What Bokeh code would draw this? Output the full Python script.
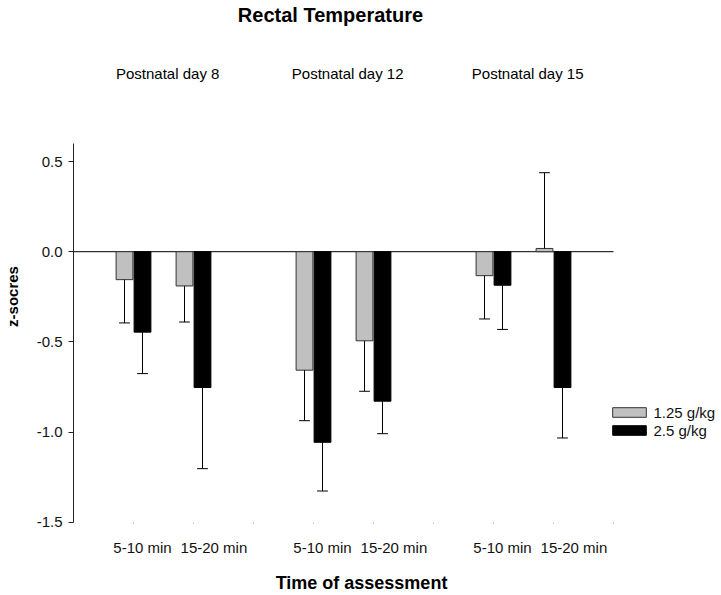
import numpy as np
from bokeh.plotting import figure
from bokeh.core.properties import value
from bokeh.models import (ColumnDataSource, FixedTicker, LinearAxis, Range1d,
                          Label, LabelSet, Legend, LegendItem, CustomJSTickFormatter)
from bokeh.embed import file_html
from bokeh.resources import INLINE

# ---------------- data ----------------
title_text = "Rectal Temperature"
days = ["Postnatal day 8", "Postnatal day 12", "Postnatal day 15"]
times = ["5-10 min", "15-20 min"]
series_names = ["1.25 g/kg", "2.5 g/kg"]
low_dose = [-0.155, -0.19, -0.657, -0.494, -0.133, 0.018]
low_err = [0.24, 0.20, 0.28, 0.28, 0.24, 0.42]
high_dose = [-0.446, -0.753, -1.057, -0.829, -0.186, -0.753]
high_err = [0.23, 0.45, 0.27, 0.18, 0.245, 0.28]
y_ticks = [-1.5, -1.0, -0.5, 0.0, 0.5]
y_min, y_max = -1.5, 0.6
x_title = "Time of assessment"
y_title = "z-socres"

# ---------------- layout / style ----------------
FONT = "Liberation Sans"
W, H = 716, 592
LEFT = 73                 # frame left edge (y axis)
AX_TOP, AX_BOTTOM = 143, 521.7   # pixel rows of y_max / y_min
SLOT_PX = 60.0

n_days = len(days)
n_times = len(times)
slots = n_times + 1
n_slots = n_days * slots
pos = np.array([d * slots + t + 1 for d in range(n_days) for t in range(n_times)], float)
off = 0.15
bw = 0.28

ppu = (AX_BOTTOM - AX_TOP) / (y_max - y_min)
frame_w = W - LEFT
x_end = frame_w / SLOT_PX
y_end = y_max + AX_TOP / ppu
y_start = y_min - (H - AX_BOTTOM) / ppu

p = figure(width=W, height=H,
           x_range=Range1d(0, x_end), y_range=Range1d(y_start, y_end),
           output_backend="svg", toolbar_location=None,
           x_axis_type=None, y_axis_type=None,
           min_border_left=LEFT, min_border_right=0,
           min_border_top=0, min_border_bottom=0)
p.outline_line_color = None
p.background_fill_color = "white"
p.border_fill_color = "white"
p.xgrid.visible = False
p.ygrid.visible = False

# zero reference line across the slots
p.line(x=[0, n_slots], y=[0, 0], line_color="black", line_width=1)

renderers = []
for vals, errs, dx, fill, line in [(low_dose, low_err, -off, "#c0c0c0", "#333333"),
                                   (high_dose, high_err, off, "#000000", "#000000")]:
    v = np.array(vals)
    e = np.array(errs)
    end = v + np.where(v >= 0, 1, -1) * e
    x = pos + dx
    src = ColumnDataSource(dict(x=x, top=v, end=end, x0=x - 0.09, x1=x + 0.09))
    r = p.vbar(x="x", top="top", bottom=0, width=bw, source=src,
               fill_color=fill, line_color=line, line_width=1)
    p.segment(x0="x", y0="top", x1="x", y1="end", source=src, line_color="black", line_width=1)
    p.segment(x0="x0", y0="end", x1="x1", y1="end", source=src, line_color="black", line_width=1)
    renderers.append(r)

# y axis (limited to the data range)
yaxis = LinearAxis(ticker=FixedTicker(ticks=y_ticks), bounds=(y_min, y_max),
                   formatter=CustomJSTickFormatter(code="return tick.toFixed(1)"),
                   axis_label=y_title)
yaxis.axis_line_color = "#222222"
yaxis.major_tick_line_color = "#222222"
yaxis.major_tick_out = 5
yaxis.major_tick_in = 0
yaxis.minor_tick_line_color = None
yaxis.major_label_standoff = 6
yaxis.major_label_text_font = FONT
yaxis.major_label_text_font_size = "15px"
yaxis.major_label_text_color = "#111111"
yaxis.axis_label_text_font = FONT
yaxis.axis_label_text_font_style = "bold"
yaxis.axis_label_text_font_size = "15px"
yaxis.axis_label_text_color = "black"
yaxis.axis_label_standoff = 13
p.add_layout(yaxis, "left")

# small tick dots along the bottom
slot_x = np.arange(1, n_slots + 1, dtype=float)
p.segment(x0=slot_x, y0=[y_min] * n_slots, x1=slot_x, y1=[y_min - 2 / ppu] * n_slots,
          line_color="#c8c8c8", line_width=1)

# time labels under the bars
lab_shift = {0: 0.15, 1: 0.34}
tl_x = [pos[i] + lab_shift[i % n_times] for i in range(len(pos))]
tl_text = [times[i % n_times] for i in range(len(pos))]
p.add_layout(LabelSet(x="x", y=H - 547, x_units="data", y_units="screen", text="text",
                      source=ColumnDataSource(dict(x=tl_x, text=tl_text)),
                      text_align="center", text_baseline="middle", text_font=value(FONT),
                      text_font_size=value("15px"), text_color="#111111"))

# day labels above
day_x = [float(np.mean(pos[d * n_times:(d + 1) * n_times])) + 0.07 for d in range(n_days)]
p.add_layout(LabelSet(x="x", y=H - 73, x_units="data", y_units="screen", text="text",
                      source=ColumnDataSource(dict(x=day_x, text=days)),
                      text_align="center", text_baseline="middle", text_font=value(FONT),
                      text_font_size=value("15px"), text_color="black"))

# main title
p.add_layout(Label(x=330 - LEFT, y=H - 14, x_units="screen", y_units="screen", text=title_text,
                   text_align="center", text_baseline="middle", text_font=FONT,
                   text_font_size="20px", text_font_style="bold", text_color="black"))

# x-axis title
p.add_layout(Label(x=361 - LEFT, y=H - 582, x_units="screen", y_units="screen", text=x_title,
                   text_align="center", text_baseline="middle", text_font=FONT,
                   text_font_size="18px", text_font_style="bold", text_color="black"))

legend = Legend(items=[LegendItem(label=series_names[i], renderers=[renderers[i]]) for i in range(2)],
                location=(607.5 - LEFT, H - 438.5), orientation="vertical",
                glyph_width=42, glyph_height=12, label_height=12, label_standoff=4,
                spacing=1, padding=0, margin=0,
                border_line_color=None, background_fill_alpha=0,
                label_text_font=FONT, label_text_font_size="15px",
                label_text_color="#111111", label_text_baseline="middle")
p.add_layout(legend)

open("out.html", "w").write(file_html(p, INLINE))
